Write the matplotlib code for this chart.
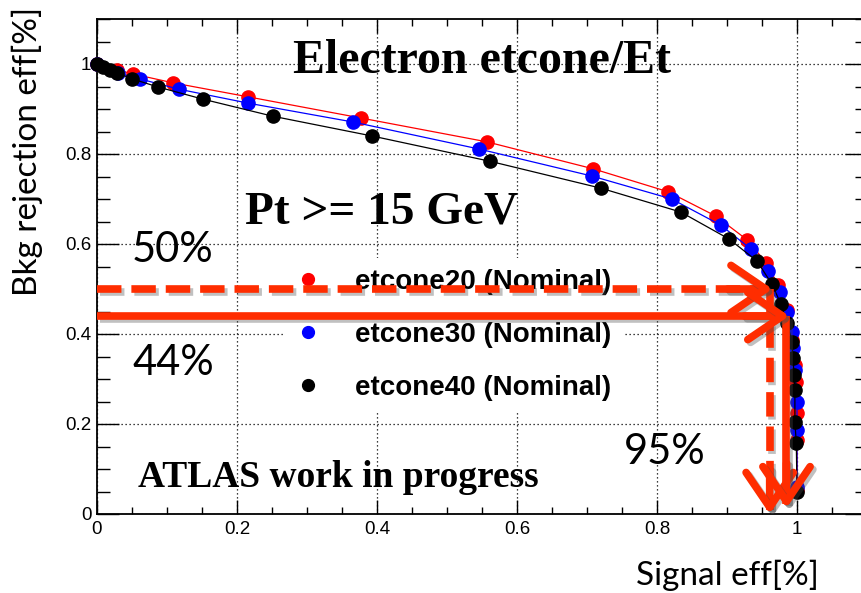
import matplotlib
matplotlib.use("Agg")
import matplotlib.pyplot as plt
import matplotlib.patheffects as pe
from matplotlib.lines import Line2D
from matplotlib.ticker import MultipleLocator

# signal eff vs bkg rejection eff
sig_20 = [0.0, 0.029, 0.051, 0.109, 0.216, 0.377, 0.557, 0.709, 0.816, 0.884, 0.929,
          0.956, 0.973, 0.986, 0.993, 0.997, 0.999, 1.0, 1.0, 1.0]
bkg_20 = [1.0, 0.987, 0.978, 0.958, 0.927, 0.880, 0.827, 0.767, 0.716, 0.662, 0.609,
          0.558, 0.509, 0.453, 0.387, 0.331, 0.293, 0.224, 0.164, 0.053]

sig_30 = [0.0, 0.030, 0.061, 0.117, 0.216, 0.366, 0.546, 0.707, 0.821, 0.891, 0.934,
          0.959, 0.976, 0.986, 0.993, 0.994, 0.997, 1.0, 1.0, 1.0]
bkg_30 = [1.0, 0.980, 0.967, 0.944, 0.913, 0.871, 0.811, 0.751, 0.700, 0.642, 0.589,
          0.540, 0.493, 0.449, 0.404, 0.369, 0.320, 0.249, 0.187, 0.060]

sig_40 = [0.0, 0.009, 0.019, 0.029, 0.050, 0.087, 0.151, 0.251, 0.393, 0.561, 0.720,
          0.834, 0.903, 0.943, 0.964, 0.977, 0.986, 0.993, 0.994, 0.996, 0.997, 0.997,
          0.999, 1.0]
bkg_40 = [1.0, 0.993, 0.987, 0.980, 0.967, 0.949, 0.922, 0.884, 0.840, 0.784, 0.724,
          0.671, 0.611, 0.562, 0.511, 0.467, 0.424, 0.382, 0.347, 0.309, 0.276, 0.204,
          0.158, 0.049]

labels = ["etcone20 (Nominal)", "etcone30 (Nominal)", "etcone40 (Nominal)"]
colors = ["#ff0000", "#0000ff", "#000000"]

# working points drawn as arrows: (bkg level, signal eff at the cut)
wp_dashed = (0.50, 0.961)
wp_solid = (0.44, 0.985)
arrow_col = "#ff2d00"

W, H = 862, 593
fig = plt.figure(figsize=(W / 100, H / 100), dpi=100)
ax = fig.add_axes([97 / W, 79 / H, 770 / W, 495 / H])

series = [(sig_20, bkg_20), (sig_30, bkg_30), (sig_40, bkg_40)]
for (xs, ys), c in zip(series, colors):
    ax.plot(xs, ys, "-", color=c, lw=0.9, marker="o", ms=9.5, mec=c,
            clip_on=False, zorder=3)

ax.set_xlim(0, 1.1)
ax.set_ylim(0, 1.1)
ax.set_xticks([0, 0.2, 0.4, 0.6, 0.8, 1.0])
ax.set_xticklabels(["0", "0.2", "0.4", "0.6", "0.8", "1"])
ax.set_yticks([0, 0.2, 0.4, 0.6, 0.8, 1.0])
ax.set_yticklabels(["0", "0.2", "0.4", "0.6", "0.8", "1"])
ax.xaxis.set_minor_locator(MultipleLocator(0.05))
ax.yaxis.set_minor_locator(MultipleLocator(0.05))
ax.tick_params(axis="both", which="both", direction="in", top=True, right=True,
               labelsize=13.5, width=1.0, colors="black")
ax.tick_params(axis="x", which="major", length=10, pad=5)
ax.tick_params(axis="x", which="minor", length=5)
ax.tick_params(axis="y", which="major", length=16, pad=4)
ax.tick_params(axis="y", which="minor", length=9)
for lab in ax.get_xticklabels() + ax.get_yticklabels():
    lab.set_family("Liberation Sans")
for s in ax.spines.values():
    s.set_linewidth(1.3)
ax.grid(True, which="major", color="black", lw=0.9, linestyle=(0, (1, 2.2)))
ax.set_axisbelow(True)

# legend: markers only
handles = [Line2D([], [], ls="none", marker="o", ms=8.5, color=c) for c in colors]
leg = ax.legend(handles, labels, loc="upper left",
                bbox_to_anchor=(283 / W, 1 - 258 / H), bbox_transform=fig.transFigure,
                frameon=True, facecolor="white", edgecolor="none", framealpha=1,
                fancybox=False, borderpad=0.4, borderaxespad=0, handlelength=1.0,
                handletextpad=1.2, labelspacing=0.97,
                prop=dict(family="Liberation Sans", weight="bold", size=20))
leg.set_zorder(4)

# cut arrows
shadow = [pe.SimpleLineShadow(offset=(2, -2), shadow_color="0.3", alpha=0.35), pe.Normal()]
head = "->,head_length=2.5,head_width=1.7"


def cut_arrow(level, eff, style, tip_y):
    dash = (3.2, 1.3) if style == "--" else (None, None)
    ax.plot([0, eff - 0.004], [level, level], color=arrow_col, lw=5.5, ls=style,
            solid_capstyle="butt", dash_capstyle="butt", clip_on=False, zorder=6,
            path_effects=shadow, dashes=dash)
    ax.plot([eff, eff], [level, tip_y + 0.01], color=arrow_col, lw=5.5, ls=style,
            solid_capstyle="butt", dash_capstyle="butt", clip_on=False, zorder=6,
            path_effects=shadow, dashes=dash)
    ax.annotate("", xy=(eff + 0.004, level), xytext=(eff - 0.06, level),
                arrowprops=dict(arrowstyle=head, color=arrow_col, lw=5.5,
                                shrinkA=0, shrinkB=0, path_effects=shadow),
                zorder=6, annotation_clip=False)
    ax.annotate("", xy=(eff, tip_y), xytext=(eff, tip_y + 0.1),
                arrowprops=dict(arrowstyle=head, color=arrow_col, lw=5.5,
                                shrinkA=0, shrinkB=0, path_effects=shadow),
                zorder=6, annotation_clip=False)


cut_arrow(wp_dashed[0], wp_dashed[1], "--", 0.0)
cut_arrow(wp_solid[0], wp_solid[1], "-", 0.013)

# overlay texts
serif = dict(family="Liberation Serif", weight="bold", color="black")
fig.text(293 / W, 1 - 73 / H, "Electron etcone/Et", fontsize=34.5, va="baseline", **serif)
fig.text(245 / W, 1 - 224 / H, "Pt >= 15 GeV", fontsize=34, va="baseline", **serif)
fig.text(138 / W, 1 - 487 / H, "ATLAS work in progress", fontsize=27, va="baseline", **serif)

calib = dict(family="Lato", color="black")
fig.text(132 / W, 1 - 262 / H, "50%", fontsize=30, va="baseline", **calib)
fig.text(132 / W, 1 - 375 / H, "44%", fontsize=30, va="baseline", **calib)
fig.text(624 / W, 1 - 464 / H, "95%", fontsize=30, va="baseline", **calib)
fig.text(636 / W, 1 - 585 / H, "Signal eff[%]", fontsize=24, va="baseline", **calib)
fig.text(27 / W, 1 - 151 / H, "Bkg rejection eff[%]", fontsize=24, rotation=90,
         ha="center", va="center", **calib)

fig.savefig("out.png", dpi=100)
